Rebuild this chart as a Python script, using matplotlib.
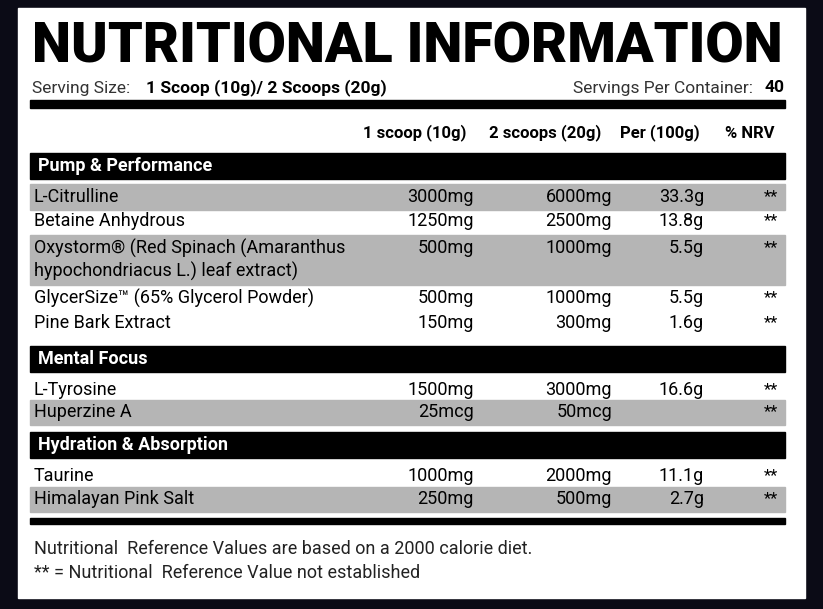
import matplotlib
matplotlib.use("Agg")
import matplotlib.pyplot as plt
from matplotlib.patches import Rectangle

title = "NUTRITIONAL INFORMATION"
serving_left = ("Serving Size: ", "1 Scoop (10g)/ 2 Scoops (20g)")
serving_right = ("Servings Per Container: ", "40")
col_headers = ["1 scoop (10g)", "2 scoops (20g)", "Per (100g)", "% NRV"]
sections = ["Pump & Performance", "Mental Focus", "Hydration & Absorption"]
names = ["L-Citrulline", "Betaine Anhydrous",
         "Oxystorm® (Red Spinach (Amaranthus\nhypochondriacus L.) leaf extract)",
         "GlycerSize™ (65% Glycerol Powder)", "Pine Bark Extract",
         "L-Tyrosine", "Huperzine A", "Taurine", "Himalayan Pink Salt"]
scoop1 = ["3000mg", "1250mg", "500mg", "500mg", "150mg", "1500mg", "25mcg", "1000mg", "250mg"]
scoop2 = ["6000mg", "2500mg", "1000mg", "1000mg", "300mg", "3000mg", "50mcg", "2000mg", "500mg"]
per100 = ["33.3g", "13.8g", "5.5g", "5.5g", "1.6g", "16.6g", "", "11.1g", "2.7g"]
nrv = ["**"] * 9
footer = ["Nutritional  Reference Values are based on a 2000 calorie diet.",
          "** = Nutritional  Reference Value not established"]

row_y = [197, 221, 260, 298, 323, 390, 412, 476, 499]
row_grey = [True, False, True, False, False, False, True, False, True]
row_h = [26, 24, 50, 24, 24, 24, 25, 24, 25]
sec_y = [166, 359, 445]

F = ['Roboto', 'DejaVu Sans']
fig = plt.figure(figsize=(8.23, 6.09), dpi=100)
fig.patch.set_facecolor("#0b0b16")
ax = fig.add_axes([0, 0, 1, 1])
ax.set_xlim(0, 823); ax.set_ylim(609, 0); ax.axis("off")
ax.add_patch(Rectangle((18, 8), 787, 590, color="white"))

ax.text(407, 47, title, ha="center", va="center", fontsize=40, fontweight="black",
        family=F, color="black")
ax.text(32, 88, serving_left[0], ha="left", va="center", fontsize=12.5, family=F, color="#333")
ax.text(146, 88, serving_left[1], ha="left", va="center", fontsize=12.5, family=F, fontweight="bold")
ax.text(757, 88, serving_right[0], ha="right", va="center", fontsize=12.5, family=F, color="#333")
ax.text(785, 88, serving_right[1], ha="right", va="center", fontsize=12.5, family=F, fontweight="bold")
ax.add_patch(Rectangle((30, 100), 755, 8, color="black"))

hx = [415, 545, 660, 750]
for x, h in zip(hx, col_headers):
    ax.text(x, 133, h, ha="center", va="center", fontsize=12, fontweight="bold", family=F)

for y, s in zip(sec_y, sections):
    ax.add_patch(Rectangle((30, y - 13), 755, 26, color="black"))
    ax.text(38, y, s, ha="left", va="center", fontsize=13, fontweight="bold", color="white", family=F)

for i in range(len(names)):
    y = row_y[i]
    if row_grey[i]:
        ax.add_patch(Rectangle((30, y - row_h[i] / 2), 755, row_h[i], color="#b5b5b5"))
    ax.text(34, y, names[i], ha="left", va="center", fontsize=13, family=F, linespacing=1.3)
    vy = y - 12 if "\n" in names[i] else y
    ax.text(474, vy, scoop1[i], ha="right", va="center", fontsize=13, family=F)
    ax.text(612, vy, scoop2[i], ha="right", va="center", fontsize=13, family=F)
    ax.text(704, vy, per100[i], ha="right", va="center", fontsize=13, family=F)
    ax.text(771, vy, nrv[i], ha="center", va="center", fontsize=12, family=F)

ax.add_patch(Rectangle((30, 518), 755, 6, color="black"))
ax.text(34, 549, footer[0], ha="left", va="center", fontsize=13, family=F, color="#222")
ax.text(34, 573, footer[1], ha="left", va="center", fontsize=13, family=F, color="#222")

fig.savefig("out.png", dpi=100, facecolor=fig.get_facecolor())
